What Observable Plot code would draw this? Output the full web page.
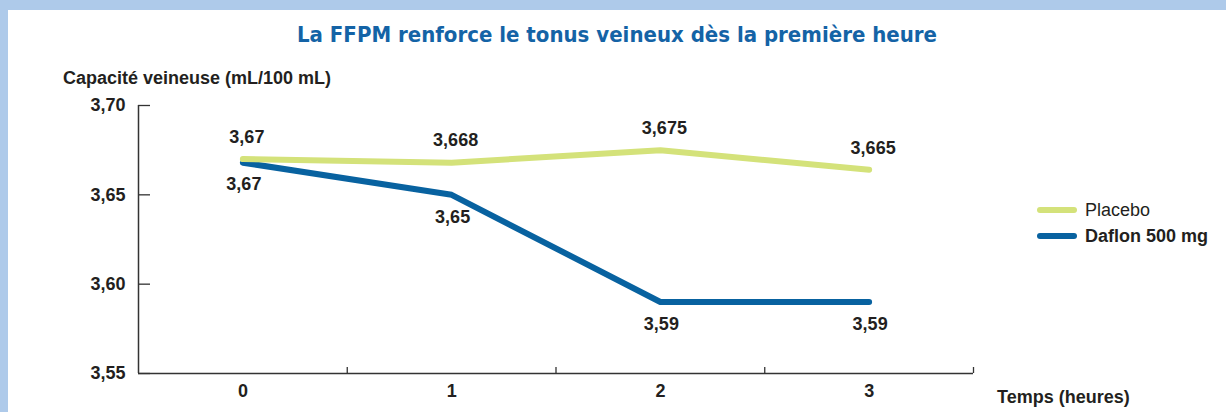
<!DOCTYPE html>
<html>
<head>
<meta charset="utf-8">
<script src="https://cdn.jsdelivr.net/npm/d3@7"></script>
<script src="https://cdn.jsdelivr.net/npm/@observablehq/plot@0.6"></script>
<style>
  html, body { margin: 0; padding: 0; }
  body { width: 1226px; height: 412px; background: #aecaea; overflow: hidden; font-family: "Liberation Sans", Arial, sans-serif; }
  #panel { position: absolute; left: 8px; top: 10px; width: 1218px; height: 402px; background: #fff; }
  #panel svg { position: absolute; left: 0; top: 0; }
  .lbl { position: absolute; white-space: nowrap; color: #231f20; font-size: 18px; font-weight: bold; line-height: 1; }
  #title { position: absolute; left: 0; width: 1218px; top: 14px; text-align: center; color: #1463a6; font-family: "DejaVu Sans Condensed", "DejaVu Sans", sans-serif; font-weight: bold; font-size: 22px; line-height: 1; }
  .leg { position: absolute; display: flex; align-items: center; font-size: 18px; color: #231f20; line-height: 1; }
  .leg span.sw { display: inline-block; width: 40px; height: 6px; border-radius: 3px; margin-right: 8px; }
</style>
</head>
<body>
<div id="panel">
  <div id="title">La FFPM renforce le tonus veineux dès la première heure</div>
  <div class="lbl" style="left:55px; top:59px;">Capacité veineuse (mL/100 mL)</div>
  <div class="lbl" style="left:989px; top:378px;">Temps (heures)</div>
  <div id="legend"></div>
</div>
<script>
const hours = [0, 1, 2, 3];
const placebo = [3.670, 3.668, 3.675, 3.664];
const daflon = [3.668, 3.650, 3.590, 3.590];
const placeboLabels = ["3,67", "3,668", "3,675", "3,665"];
const daflonLabels = ["3,67", "3,65", "3,59", "3,59"];
const yTicks = [3.55, 3.60, 3.65, 3.70];
const yTickLabels = ["3,55", "3,60", "3,65", "3,70"];
const seriesNames = ["Placebo", "Daflon 500 mg"];
const seriesColors = ["#d4e27a", "#0862a0"];

const rowsP = hours.map((h, i) => ({h, v: placebo[i], t: placeboLabels[i]}));
const rowsD = hours.map((h, i) => ({h, v: daflon[i], t: daflonLabels[i]}));
const boundaries = hours.map(h => h + 0.5);
const xMin = hours[0] - 0.5, xMax = hours[hours.length - 1] + 0.5;

const chart = Plot.plot({
  width: 1218,
  height: 402,
  marginLeft: 130,
  marginRight: 253,
  marginTop: 95,
  marginBottom: 39,
  style: {fontFamily: "Liberation Sans, Arial, sans-serif", fontSize: "18px", fontWeight: "bold", color: "#231f20", background: "transparent"},
  x: {domain: [xMin, xMax], axis: null},
  y: {domain: [3.55, 3.70], axis: null},
  marks: [
    Plot.axisY({ticks: yTicks, tickSize: -12, tickPadding: 25, tickFormat: d => yTickLabels[yTicks.indexOf(d)], stroke: "#333", strokeWidth: 1.3, label: null, fill: "#231f20"}),
    Plot.axisX({ticks: boundaries, tickSize: -6, tickFormat: () => "", stroke: "#333", strokeWidth: 1.3, label: null}),
    Plot.axisX({ticks: hours, tickSize: 0, tickPadding: 11, tickFormat: d => String(d), label: null, fill: "#231f20"}),
    Plot.ruleX([xMin], {y1: 3.55, y2: 3.70, stroke: "#333", strokeWidth: 1.5}),
    Plot.ruleY([3.55], {x1: xMin, x2: xMax, stroke: "#333", strokeWidth: 1.5}),
    Plot.line(rowsD, {x: "h", y: "v", stroke: seriesColors[1], strokeWidth: 6, strokeLinecap: "round", strokeLinejoin: "round"}),
    Plot.line(rowsP, {x: "h", y: "v", stroke: seriesColors[0], strokeWidth: 6, strokeLinecap: "round", strokeLinejoin: "round"}),
    Plot.text(rowsP, {x: "h", y: "v", text: "t", dy: -22, dx: 4, fill: "#231f20"}),
    Plot.text(rowsD, {x: "h", y: "v", text: "t", dy: 22, dx: 1, fill: "#231f20"})
  ]
});
document.getElementById("panel").appendChild(chart);

const legend = document.getElementById("legend");
seriesNames.forEach((name, i) => {
  const d = document.createElement("div");
  d.className = "leg";
  d.style.left = "1029px";
  d.style.top = (191 + i * 26) + "px";
  d.style.fontWeight = i === 1 ? "bold" : "normal";
  d.innerHTML = `<span class="sw" style="background:${seriesColors[i]}"></span>${name}`;
  legend.appendChild(d);
});
</script>
</body>
</html>
